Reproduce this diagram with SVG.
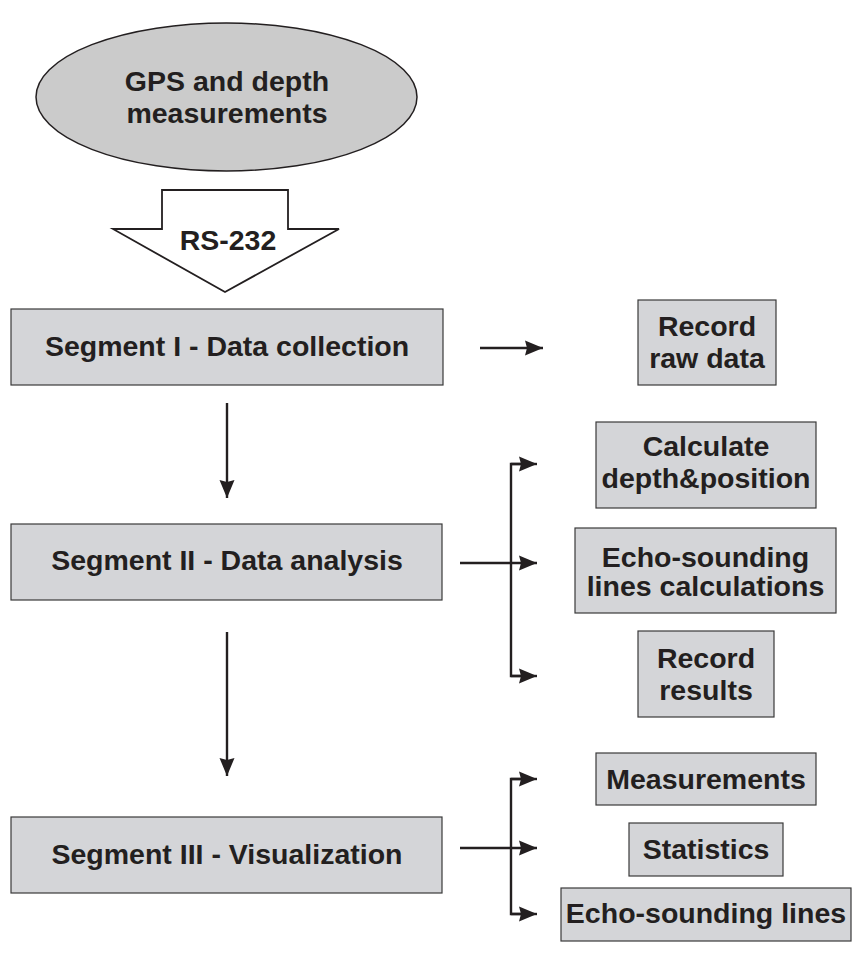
<svg xmlns="http://www.w3.org/2000/svg" width="864" height="953" viewBox="0 0 864 953">
<defs>
<style>
.box{fill:#d4d5d8;stroke:#3a3a3a;stroke-width:1.2}
.t{font-family:"Liberation Sans",Arial,sans-serif;font-weight:bold;font-size:28.5px;fill:#231f20;text-anchor:middle}
.ln{fill:none;stroke:#231f20;stroke-width:2.4}
</style>
<marker id="ah" markerUnits="userSpaceOnUse" markerWidth="20" markerHeight="16" refX="18" refY="8" orient="auto">
<path d="M0,0.5 L18,8 L0,15.5 L2,8 Z" fill="#231f20"/>
</marker>
</defs>
<rect width="864" height="953" fill="#ffffff"/>
<g id="gps">
<ellipse cx="226.5" cy="97" rx="190.5" ry="74" fill="#cbcbcb" stroke="#231f20" stroke-width="1.5"/>
<text class="t" x="227" y="91">GPS and depth</text>
<text class="t" x="227" y="123">measurements</text>
</g>
<g id="rs232">
<polygon points="162,190 288,190 288,229 339,229 225,292 113,229 162,229" fill="#ffffff" stroke="#231f20" stroke-width="1.8"/>
<text class="t" x="228" y="250">RS-232</text>
</g>
<g id="seg1">
<rect class="box" x="11" y="309" width="432" height="76"/>
<text class="t" x="227" y="356">Segment I - Data collection</text>
</g>
<g id="raw">
<rect class="box" x="638" y="300" width="138" height="85"/>
<text class="t" x="707" y="336">Record</text>
<text class="t" x="707" y="368">raw data</text>
</g>
<g id="seg2">
<rect class="box" x="11" y="524" width="431" height="76"/>
<text class="t" x="227" y="570">Segment II - Data analysis</text>
</g>
<g id="calc">
<rect class="box" x="596" y="422" width="220" height="86"/>
<text class="t" x="706" y="456">Calculate</text>
<text class="t" x="706" y="488">depth&amp;position</text>
</g>
<g id="echocalc">
<rect class="box" x="575" y="528" width="261" height="85"/>
<text class="t" x="705.5" y="567">Echo-sounding</text>
<text class="t" x="705.5" y="596">lines calculations</text>
</g>
<g id="results">
<rect class="box" x="638" y="631" width="136" height="86"/>
<text class="t" x="706" y="668">Record</text>
<text class="t" x="706" y="700">results</text>
</g>
<g id="seg3">
<rect class="box" x="11" y="817" width="431" height="76"/>
<text class="t" x="227" y="864">Segment III - Visualization</text>
</g>
<g id="meas">
<rect class="box" x="596" y="753" width="220" height="52"/>
<text class="t" x="706" y="789">Measurements</text>
</g>
<g id="stats">
<rect class="box" x="629" y="823" width="154" height="53"/>
<text class="t" x="706" y="859">Statistics</text>
</g>
<g id="echolines">
<rect class="box" x="561" y="888" width="290" height="53"/>
<text class="t" x="706" y="923">Echo-sounding lines</text>
</g>
<g id="connectors">
<line class="ln" x1="480" y1="348" x2="543" y2="348" marker-end="url(#ah)"/>
<line class="ln" x1="227" y1="403" x2="227" y2="498" marker-end="url(#ah)"/>
<line class="ln" x1="227" y1="632" x2="227" y2="776" marker-end="url(#ah)"/>
<line class="ln" x1="460" y1="563" x2="537" y2="563" marker-end="url(#ah)"/>
<polyline class="ln" points="530,464 511,464 511,676 530,676"/>
<line class="ln" x1="511" y1="464" x2="537" y2="464" marker-end="url(#ah)"/>
<line class="ln" x1="511" y1="676" x2="537" y2="676" marker-end="url(#ah)"/>
<line class="ln" x1="460" y1="848" x2="537" y2="848" marker-end="url(#ah)"/>
<polyline class="ln" points="530,779 511,779 511,914 530,914"/>
<line class="ln" x1="511" y1="779" x2="537" y2="779" marker-end="url(#ah)"/>
<line class="ln" x1="511" y1="914" x2="537" y2="914" marker-end="url(#ah)"/>
</g>
</svg>
